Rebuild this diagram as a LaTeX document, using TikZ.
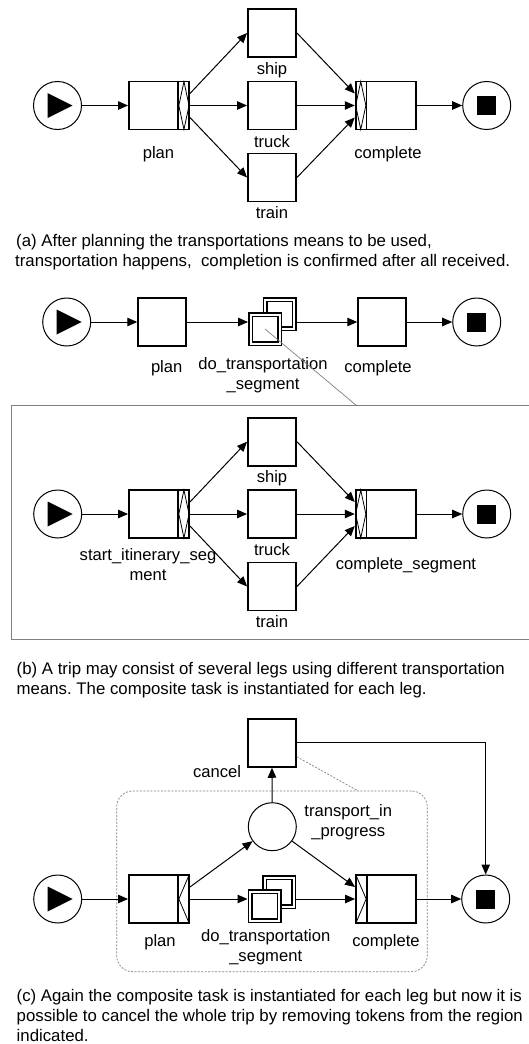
\documentclass[tikz,border=0pt]{standalone}
\usepackage{fontspec}
\setmainfont{Liberation Sans}
\frenchspacing
\usetikzlibrary{arrows.meta,calc}
\newcommand\playmark[1]{\fill ($(#1)+(-10,-12.5)$) -- ++(0,25) -- ++(25,-12.5) -- cycle;}
\newcommand\stopmark[1]{\fill ($(#1)+(-9.5,-9.5)$) rectangle ++(19,19);}
\newcommand\xorsplit[1]{%
  \draw[line width=1.3pt] ($(#1.north east)+(-12,0)$) -- ($(#1.south east)+(-12,0)$);
  \draw[line width=0.8pt] ($(#1.north east)+(-6,1)$) -- ($(#1.east)+(-0.9,0)$) -- ($(#1.south east)+(-6,-1)$) -- ($(#1.east)+(-11.1,0)$) -- cycle;}
\newcommand\xorjoin[1]{%
  \draw[line width=1.3pt] ($(#1.north west)+(12,0)$) -- ($(#1.south west)+(12,0)$);
  \draw[line width=0.8pt] ($(#1.north west)+(6,1)$) -- ($(#1.west)+(0.9,0)$) -- ($(#1.south west)+(6,-1)$) -- ($(#1.west)+(11.1,0)$) -- cycle;}
\newcommand\andsplit[1]{%
  \draw[line width=1.3pt] ($(#1.north east)+(-12,0)$) -- ($(#1.south east)+(-12,0)$);
  \draw[line width=0.8pt] ($(#1.north east)+(-0.9,1)$) -- ($(#1.east)+(-11.1,0)$) -- ($(#1.south east)+(-0.9,-1)$);}
\newcommand\andjoin[1]{%
  \draw[line width=1.3pt] ($(#1.north west)+(12,0)$) -- ($(#1.south west)+(12,0)$);
  \draw[line width=0.8pt] ($(#1.north west)+(0.9,1)$) -- ($(#1.west)+(11.1,0)$) -- ($(#1.south west)+(0.9,-1)$);}
\begin{document}
\begin{tikzpicture}[x=1pt,y=-1pt,
  every node/.style={font=\fontsize{16.6}{20}\selectfont},
  task/.style={draw, line width=1.9pt, fill=white, inner sep=0pt, minimum width=48pt, minimum height=48pt},
  wtask/.style={task, minimum width=60pt},
  cond/.style={draw, circle, line width=1pt, fill=white, minimum size=48pt, inner sep=0pt},
  comp/.style={draw, double, double distance=2pt, line width=1.5pt, fill=white, minimum size=29pt, inner sep=0pt, outer sep=2.5pt},
  arr/.style={-{Triangle[length=10pt,width=8.5pt]}, line width=1pt},
  lbl/.style={align=center, inner sep=0pt},
  captxt/.style={anchor=base west, inner sep=0pt, font=\fontsize{16.8}{20}\selectfont},
  thinline/.style={draw=black!50, line width=0.7pt},
  dashline/.style={draw=black!50, line width=0.7pt, dash pattern=on 2pt off 1.5pt},
]
\path[use as bounding box, fill=white] (0,0) rectangle (528,1044);

% ---------------- (a) ----------------
\node[cond] (sa) at (57.5,105.5) {};
\node[wtask] (plana) at (159,105.5) {};
\node[task] (shipa) at (272,33) {};
\node[task] (trucka) at (272,105.5) {};
\node[task] (traina) at (272,177.5) {};
\node[wtask] (compa) at (385.7,105.5) {};
\node[cond] (ea) at (486.7,105.5) {};
\playmark{sa}
\stopmark{ea}
\xorsplit{plana}
\xorjoin{compa}
\node[lbl] (lplana) at (158.5,154) {plan};
\node[lbl] (lshipa) at (272,70) {ship};
\node[lbl] (ltrucka) at (272,141.7) {truck};
\node[lbl] (ltraina) at (272,213) {train};
\node[lbl] (lcompa) at (388,154) {complete};
\draw[arr] (sa) -- (plana);
\draw[arr] ([yshift=12pt]plana.east) -- (shipa.west);
\draw[arr] (plana.east) -- (trucka.west);
\draw[arr] ([yshift=-12pt]plana.east) -- (traina.west);
\draw[arr] (shipa.east) -- ([yshift=12pt]compa.west);
\draw[arr] (trucka.east) -- (compa.west);
\draw[arr] (traina.east) -- ([yshift=-12pt]compa.west);
\draw[arr] (compa.east) -- (ea);
\node[captxt] (capa1) at (16,246) {(a) After planning the transportations means to be used,};
\node[captxt] (capa2) at (15,266.7) {transportation happens,~ completion is confirmed after all received.};

% ---------------- (b) top ----------------
\node[cond] (sb) at (66.7,322) {};
\node[task] (planb) at (162.2,322) {};
\node[comp] (backb) at (279.5,314) {};
\node[comp] (frontb) at (265,329) {};
\node[task] (compb) at (382.2,322) {};
\node[cond] (eb) at (476.7,322) {};
\playmark{sb}
\stopmark{eb}
\node[lbl] (lplanb) at (166.7,368) {plan};
\node[lbl] (ldob) at (263,375) {do\_transportation\\\_segment};
\node[lbl] (lcompb) at (378,368) {complete};
\draw[arr] (sb) -- (planb);
\draw[arr] (planb.east) -- (frontb.west |- planb.east);
\draw[arr] (backb.east |- compb.west) -- (compb.west);
\draw[arr] (compb.east) -- (eb);

% ---------------- (b) expansion ----------------
\node[draw=black!50, line width=0.9pt, minimum width=518pt, minimum height=233.3pt, inner sep=0pt] (regb) at (270,522.35) {};
\coordinate (zb) at (356.7,405.7);
\draw[thinline] (frontb.center) -- (zb);

\node[cond] (sbi) at (57.7,514) {};
\node[wtask] (sis) at (159,514) {};
\node[task] (shipb) at (272,441.7) {};
\node[task] (truckb) at (272,514) {};
\node[task] (trainb) at (272,586.5) {};
\node[wtask] (cs) at (385.7,514) {};
\node[cond] (ebi) at (486.7,514) {};
\playmark{sbi}
\stopmark{ebi}
\xorsplit{sis}
\xorjoin{cs}
\node[lbl] (lsis) at (148,565) {start\_itinerary\_seg\\ment};
\node[lbl] (lshipb) at (272,478) {ship};
\node[lbl] (ltruckb) at (272,550) {truck};
\node[lbl] (ltrainb) at (272,621.7) {train};
\node[lbl] (lcs) at (406,565) {complete\_segment};
\draw[arr] (sbi) -- (sis);
\draw[arr] ([yshift=12pt]sis.east) -- (shipb.west);
\draw[arr] (sis.east) -- (truckb.west);
\draw[arr] ([yshift=-12pt]sis.east) -- (trainb.west);
\draw[arr] (shipb.east) -- ([yshift=12pt]cs.west);
\draw[arr] (truckb.east) -- (cs.west);
\draw[arr] (trainb.east) -- ([yshift=-12pt]cs.west);
\draw[arr] (cs.east) -- (ebi);
\node[captxt] (capb1) at (16.5,674) {(b) A trip may consist of several legs using different transportation};
\node[captxt] (capb2) at (16.5,694.5) {means. The composite task is instantiated for each leg.};

% ---------------- (c) ----------------
\node[draw=black!50, line width=0.7pt, dash pattern=on 2pt off 1.5pt, rounded corners=16pt, minimum width=310.6pt, minimum height=180.7pt, inner sep=0pt] (regc) at (272,881.35) {};
\node[task] (cancel) at (271.8,742.8) {};
\node[cond] (place) at (272.3,826.7) {};
\node[cond] (sc) at (57.7,899) {};
\node[wtask] (planc) at (159,899) {};
\node[comp] (backc) at (279.2,892.2) {};
\node[comp] (frontc) at (264.5,906.3) {};
\node[wtask] (compc) at (386,899) {};
\node[cond] (ec) at (485.7,899) {};
\playmark{sc}
\stopmark{ec}
\andsplit{planc}
\andjoin{compc}
\node[lbl] (lcancel) at (217,771.7) {cancel};
\node[lbl] (lplace) at (348.3,821.7) {transport\_in\\\_progress};
\node[lbl] (lplanc) at (160,941.7) {plan};
\node[lbl] (ldoc) at (265.7,946.7) {do\_transportation\\\_segment};
\node[lbl] (lcompc) at (386,941.7) {complete};
\coordinate (cz) at ($(cancel.south east)+(0,-11)$);
\coordinate (rz) at (358.3,791);
\draw[dashline] (cz) -- (rz);
\draw[arr] (sc) -- (planc);
\draw[arr] ([yshift=12pt]planc.east) -- (place);
\draw[arr] (planc.east) -- (frontc.west |- planc.east);
\draw[arr] (backc.east |- compc.west) -- (compc.west);
\draw[arr] (place) -- ([yshift=12pt]compc.west);
\draw[arr] (place) -- (cancel);
\draw[arr] (cancel.east) -| (ec.north);
\draw[arr] (compc.east) -- (ec);
\node[captxt] (capc1) at (16.5,1001.5) {(c) Again the composite task is instantiated for each leg but now it is};
\node[captxt] (capc2) at (16.5,1021.5) {possible to cancel the whole trip by removing tokens from the region};
\node[captxt] (capc3) at (16.5,1041.5) {indicated.};
\end{tikzpicture}
\end{document}
